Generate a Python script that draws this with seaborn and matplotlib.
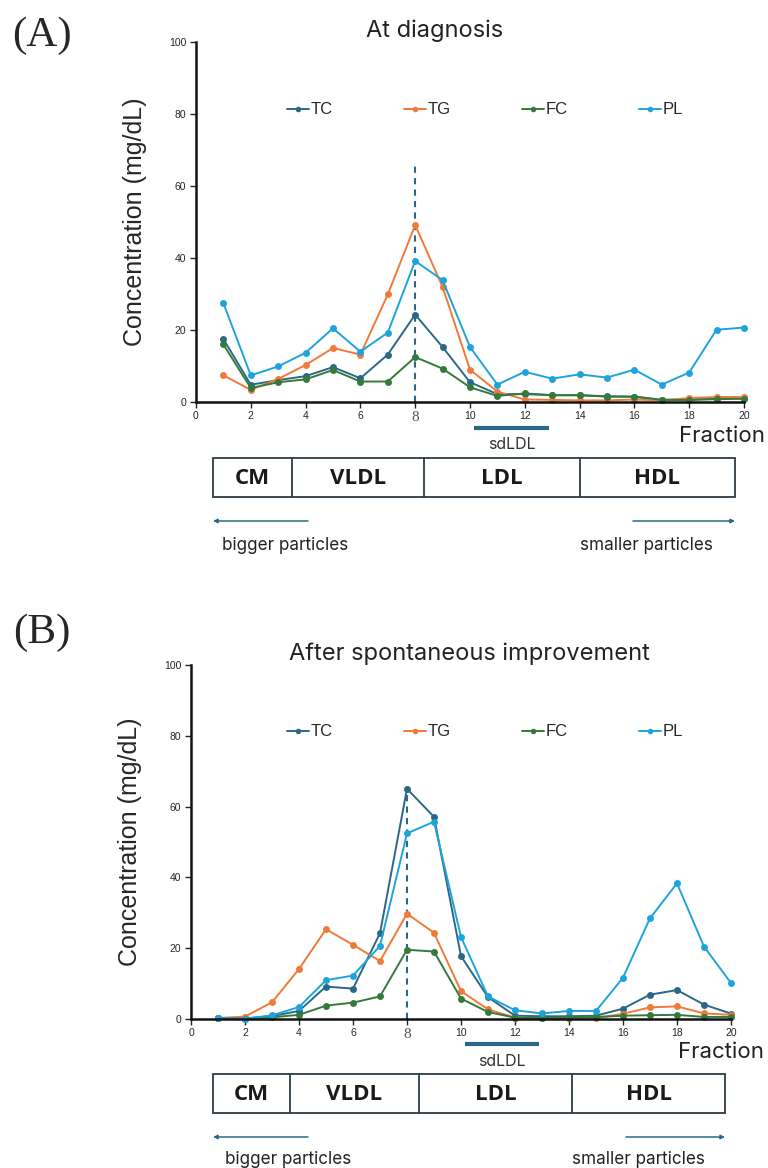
import pandas as pd
import matplotlib
matplotlib.use("Agg")
import matplotlib.pyplot as plt
import matplotlib.transforms as mtransforms
from matplotlib.patches import Rectangle
import seaborn as sns

# --- data ---
fractions = list(range(1, 21))
lipids = ["TC", "TG", "FC", "PL"]

a_tc = [17.4, 4.7, 6.0, 7.1, 9.6, 6.5, 13.1, 24.2, 15.2, 5.4, 2.1, 2.1, 1.8, 1.8, 1.5, 1.4, 0.5, 0.6, 0.9, 1.0]
a_tg = [7.3, 3.3, 6.3, 10.2, 14.9, 13.1, 29.8, 49.1, 31.9, 8.9, 2.8, 0.6, 0.5, 0.35, 0.35, 0.6, 0.35, 1.0, 1.3, 1.3]
a_fc = [15.9, 3.8, 5.4, 6.2, 8.8, 5.6, 5.6, 12.4, 9.2, 4.0, 1.6, 2.3, 1.8, 1.8, 1.4, 1.4, 0.5, 0.45, 0.7, 0.8]
a_pl = [27.4, 7.3, 9.8, 13.6, 20.4, 13.9, 19.2, 39.1, 33.8, 15.2, 4.75, 8.3, 6.4, 7.6, 6.7, 8.9, 4.75, 8.1, 20.0, 20.6]

b_tc = [0.1, 0.1, 0.75, 2.2, 9.1, 8.5, 24.2, 65.0, 57.1, 17.7, 6.1, 0.85, 0.7, 0.7, 0.85, 2.85, 6.8, 8.1, 4.0, 1.45]
b_tg = [0.2, 0.6, 4.65, 14.05, 25.3, 20.9, 16.3, 29.7, 24.3, 7.8, 2.65, 0.3, 0.2, 0.2, 0.1, 1.4, 3.2, 3.5, 1.5, 1.1]
b_fc = [0.1, 0.0, 0.4, 1.1, 3.7, 4.55, 6.3, 19.5, 19.0, 5.7, 1.9, 0.3, 0.2, 0.3, 0.5, 0.85, 1.0, 1.1, 0.5, 0.5]
b_pl = [0.2, 0.0, 0.95, 3.3, 10.9, 12.2, 20.6, 52.4, 55.7, 23.1, 6.3, 2.4, 1.5, 2.2, 2.2, 11.6, 28.4, 38.3, 20.4, 10.1]

peak_fraction = 8
a_dash_top = 66
b_dash_top = 65.0
sdldl_range = (10.15, 12.9)
class_names = ["CM", "VLDL", "LDL", "HDL"]

colors = {"TC": "#2b6888", "TG": "#f07a3a", "FC": "#357a3a", "PL": "#1ea4dc"}
frame_col = "#2d3b44"

sns.set_theme(style="ticks")
plt.rcParams["font.family"] = ["Liberation Sans", "DejaVu Sans"]


def long_df(tc, tg, fc, pl):
    rows = []
    for name, vals in zip(lipids, [tc, tg, fc, pl]):
        for f, v in zip(fractions, vals):
            rows.append({"Fraction": f, "value": v, "lipid": name})
    return pd.DataFrame(rows)


def draw_panel(ax, df, title, dash_top, leg_x, title_x, frac_x):
    sns.lineplot(data=df, x="Fraction", y="value", hue="lipid", hue_order=lipids,
                 palette=colors, marker="o", markersize=5, markeredgewidth=0,
                 linewidth=1.4, ax=ax, clip_on=False, legend=True)
    ax.vlines(peak_fraction, 0, dash_top, colors=colors["TC"], linestyles=(0, (3, 2.5)),
              linewidth=1.5, zorder=1)
    ax.set_xlim(0, 20)
    ax.set_ylim(0, 100)
    ax.set_xticks(range(0, 21, 2))
    ax.set_yticks(range(0, 101, 20))
    ax.tick_params(axis="both", labelsize=7.5, length=4, width=1, color="#222222", pad=3)
    for lab in ax.get_xticklabels():
        if lab.get_text() == "8":
            lab.set_fontfamily("Liberation Serif")
            lab.set_fontsize(11)
            lab.set_color("#555555")
    for s in ["top", "right"]:
        ax.spines[s].set_visible(False)
    for s in ["left", "bottom"]:
        ax.spines[s].set_linewidth(1.8)
        ax.spines[s].set_color("#111111")
    ax.set_xlabel("")
    ax.set_ylabel("Concentration (mg/dL)", fontsize=18, labelpad=16)
    ax.set_title(title, fontsize=17, family="Inter", pad=-2, x=title_x, color="#222222")
    handles, labels = ax.get_legend_handles_labels()
    for h in handles:
        h.set_markersize(4)
    ax.legend(handles, labels, ncol=4, frameon=False, loc="center left",
              bbox_to_anchor=(leg_x, 0.811), fontsize=12, handlelength=1.3,
              handletextpad=0.1, columnspacing=4.3, borderpad=0, borderaxespad=0)
    trans = mtransforms.blended_transform_factory(ax.transData, ax.transAxes)
    ax.plot(list(sdldl_range), [-0.072, -0.072], color=colors["TC"], lw=3,
            transform=trans, clip_on=False, solid_capstyle="butt")
    ax.text(sum(sdldl_range) / 2, -0.12, "sdLDL", transform=trans, ha="center",
            va="center", fontsize=11.5, family="Inter", color="#333333")
    ax.text(frac_x, -0.095, "Fraction", transform=ax.transAxes, ha="right",
            va="center", fontsize=16, family="Inter", color="#222222")


fig = plt.figure(figsize=(7.68, 11.68), dpi=100)
ov = fig.add_axes([0, 0, 1, 1])
ov.set_xlim(0, 768)
ov.set_ylim(1168, 0)
ov.axis("off")

ax_a = fig.add_axes([0.2552, 0.6561, 0.7135, 0.308])
ax_b = fig.add_axes([0.2487, 0.1278, 0.7031, 0.3028])
draw_panel(ax_a, long_df(a_tc, a_tg, a_fc, a_pl), "At diagnosis", a_dash_top, 0.166, 0.435, 1.038)
draw_panel(ax_b, long_df(b_tc, b_tg, b_fc, b_pl), "After spontaneous improvement",
           b_dash_top, 0.178, 0.515, 1.062)


def class_bar(edges, top, bottom, arrow_y, text_y, left_arrow, right_arrow, left_txt_x, right_txt_x):
    ov.add_patch(Rectangle((edges[0], top), edges[-1] - edges[0], bottom - top,
                           fill=False, edgecolor=frame_col, lw=1.3))
    for x in edges[1:-1]:
        ov.plot([x, x], [top, bottom], color=frame_col, lw=1.3)
    for name, x0, x1 in zip(class_names, edges[:-1], edges[1:]):
        ov.text((x0 + x1) / 2, (top + bottom) / 2 + 1, name, ha="center", va="center",
                fontsize=16, fontweight="bold", family="Open Sans", color="#1a1a1a")
    ov.annotate("", xy=(left_arrow[1], arrow_y), xytext=(left_arrow[0], arrow_y),
                arrowprops=dict(arrowstyle="-|>", color=colors["TC"], lw=1.1,
                                mutation_scale=6, shrinkA=0, shrinkB=0))
    ov.annotate("", xy=(right_arrow[1], arrow_y), xytext=(right_arrow[0], arrow_y),
                arrowprops=dict(arrowstyle="-|>", color=colors["TC"], lw=1.1,
                                mutation_scale=6, shrinkA=0, shrinkB=0))
    ov.text(left_txt_x, text_y, "bigger particles", ha="center", va="center",
            fontsize=12.3, family="Inter", color="#222222")
    ov.text(right_txt_x, text_y, "smaller particles", ha="center", va="center",
            fontsize=12.3, family="Inter", color="#222222")


class_bar([213, 292, 424, 580, 735], 458, 497, 521, 546, (308, 213), (633, 735), 285, 646)
class_bar([213, 290, 419, 572, 725], 1074, 1113, 1137, 1160, (308, 213), (626, 725), 288, 638)

ov.text(42, 36, "(A)", ha="center", va="center", fontsize=31, family="Liberation Serif")
ov.text(42, 633, "(B)", ha="center", va="center", fontsize=31, family="Liberation Serif")

fig.savefig("out.png", dpi=100)
